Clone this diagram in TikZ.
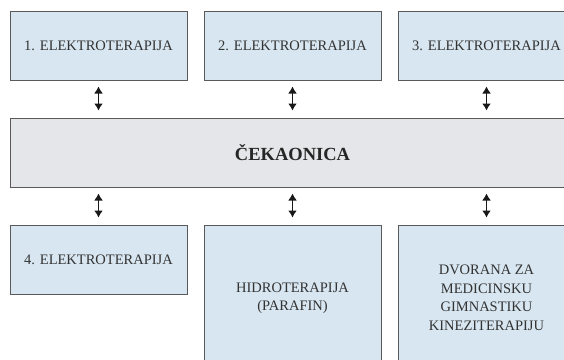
\documentclass[tikz,border=0pt]{standalone}
\usepackage{fontspec}
\setmainfont{Liberation Serif}
\usetikzlibrary{arrows.meta}
\definecolor{boxblue}{HTML}{D7E6F0}
\definecolor{boxgray}{HTML}{E5E6E9}
\definecolor{edgegray}{HTML}{5A5A5A}
\definecolor{txt}{HTML}{333333}
\tikzset{
  room/.style={draw=edgegray, line width=1pt, fill=boxblue, inner sep=0pt,
    minimum width=177pt, minimum height=69pt, align=center, text=txt,
    font=\fontsize{14.5}{18.5}\selectfont},
  hall/.style={room, fill=boxgray, minimum width=565pt,
    font=\fontsize{18.5}{20}\selectfont\bfseries, text=black!85},
  tall/.style={room, minimum height=146pt},
  link/.style={{Latex[length=7pt,width=9pt]}-{Latex[length=7pt,width=9pt]},
    line width=1.7pt, black!90, shorten <=6pt, shorten >=7pt}
}
\begin{document}
\begin{tikzpicture}[x=1pt,y=1pt]
\useasboundingbox (0,0) rectangle (564,-359);
\clip (0,0) rectangle (564,-359);
\fill[white] (0,0) rectangle (564,-359);
\node[room] (b1) at (98.5,-45.5) {1. ELEKTROTERAPIJA};
\node[room] (b2) at (292.5,-45.5) {2. ELEKTROTERAPIJA};
\node[room] (b3) at (486.5,-45.5) {3. ELEKTROTERAPIJA};
\node[hall] (w) at (292.5,-152.5) {ČEKAONICA};
\node[room] (b4) at (98.5,-259.5) {4. ELEKTROTERAPIJA};
\node[tall] (b5) at (292.5,-298) {HIDROTERAPIJA\\(PARAFIN)};
\node[tall] (b6) at (486.5,-298) {DVORANA ZA\\MEDICINSKU\\GIMNASTIKU\\KINEZITERAPIJU};
\foreach \b in {b1,b2,b3}{
  \draw[link] (\b.south) -- (\b.south |- w.north);
}
\foreach \b in {b4,b5,b6}{
  \draw[link] (\b.north |- w.south) -- (\b.north);
}
\end{tikzpicture}
\end{document}
